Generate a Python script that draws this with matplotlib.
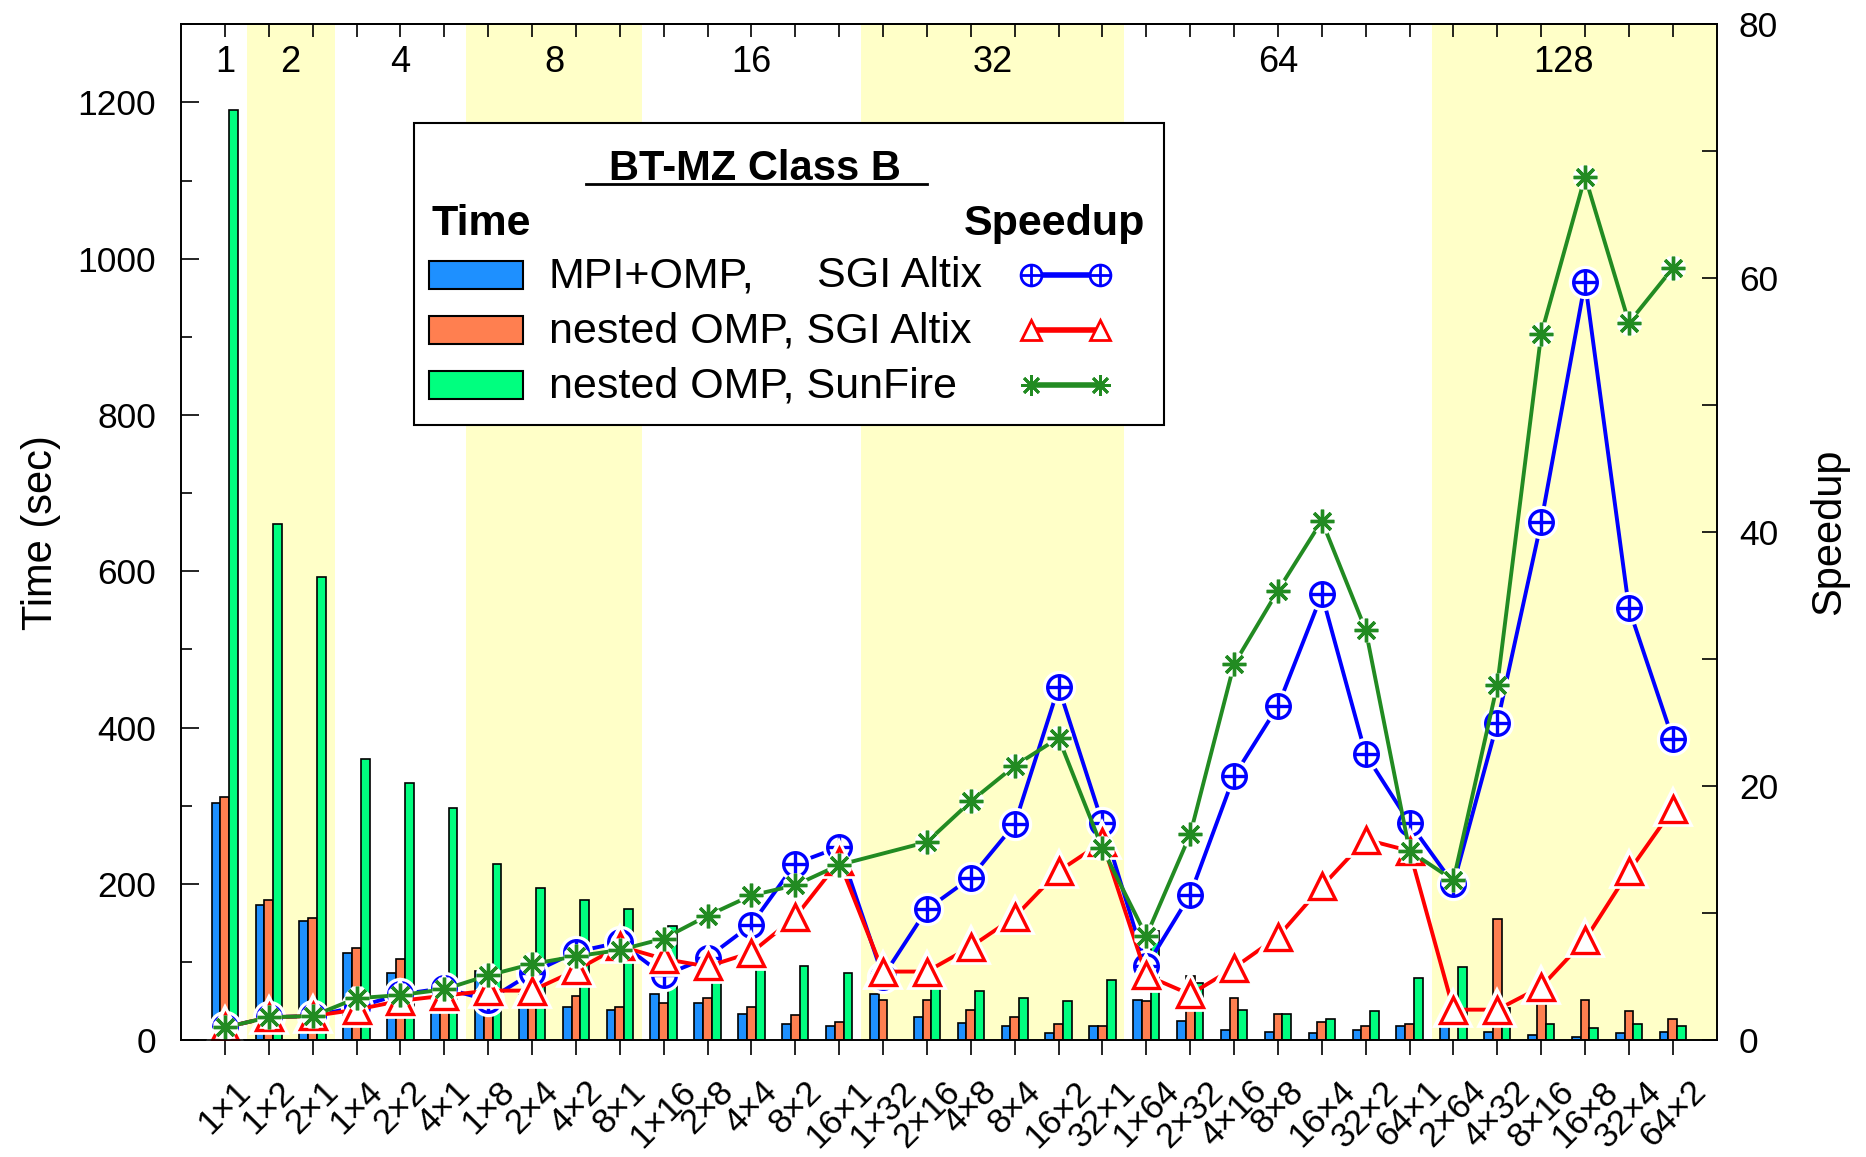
import numpy as np
import matplotlib
matplotlib.use("Agg")
from matplotlib import pyplot as plt
from matplotlib.patches import Rectangle
from matplotlib.lines import Line2D
from matplotlib.ticker import MultipleLocator

plt.rcParams['font.family'] = ['Liberation Sans', 'DejaVu Sans']

nan = np.nan

configs = ["1×1", "1×2", "2×1", "1×4", "2×2", "4×1", "1×8", "2×4", "4×2", "8×1",
           "1×16", "2×8", "4×4", "8×2", "16×1", "1×32", "2×16", "4×8", "8×4", "16×2",
           "32×1", "1×64", "2×32", "4×16", "8×8", "16×4", "32×2", "64×1", "2×64",
           "4×32", "8×16", "16×8", "32×4", "64×2"]

# time in seconds (left axis)
time_mpi_sgi = [304, 173, 153, 112, 86, 62, 88, 58, 43, 38.5, 58.6, 48, 34, 20.7, 18,
                59, 30, 22.5, 18, 9.4, 18, 52, 25, 13, 11, 9.4, 13, 18, 23.5, 10.7,
                6.4, 4.3, 9.4, 11]
time_nested_sgi = [311, 179, 156.5, 118.5, 104, 58, 60, 58, 56.5, 42.8, 47, 54, 43, 32, 23,
                   52, 52, 38, 30, 20.7, 18, 50, 82.5, 54, 34, 23, 18, 21, nan, 155,
                   58, 51, 37, 27]
time_nested_sun = [1190, 661, 593, 360, 329, 297, 225, 195, 179, 168, 146, 80, 97, 95, 86,
                   nan, 72, 63, 54, 50, 77.5, 140, 72.6, 39, 34, 27, 37, 80, 93, 40.6,
                   20.5, 15, 21, 18]

# speedup (right axis)
speedup_mpi_sgi = [1.0, 1.8, 1.9, 2.6, 3.6, 4.1, 3.15, 5.3, 6.95, 7.7, 5.1, 6.5, 9.1, 13.9,
                   15.2, 5.0, 10.3, 12.8, 17.0, 27.8, 17.1, 5.8, 11.45, 20.8, 26.3, 35.1,
                   22.5, 17.1, 12.3, 25.0, 40.8, 59.7, 34.0, 23.7]
speedup_nested_sgi = [1.0, 1.8, 1.9, 2.4, 3.1, 3.5, 3.9, 3.9, 5.5, 7.4, 6.4, 5.8, 6.9, 9.7,
                      14.1, 5.4, 5.4, 7.35, 9.7, 13.3, 15.6, 5.1, 3.6, 5.7, 8.15, 12.1,
                      15.8, 14.9, 2.4, 2.4, 4.2, 7.9, 13.3, 18.2]
speedup_nested_sun = [1.0, 1.8, 1.9, 3.3, 3.55, 4.0, 5.1, 6.0, 6.6, 7.1, 8.0, 9.8, 11.4, 12.2,
                      13.8, nan, 15.6, 18.8, 21.6, 23.8, 15.1, 8.2, 16.2, 29.6, 35.4, 40.9,
                      32.3, 14.9, 12.6, 28.0, 55.6, 68.0, 56.5, 60.8]

series_labels = ["MPI+OMP,", "nested OMP, SGI Altix", "nested OMP, SunFire"]
bar_colors = ['#1E90FF', '#FF7F50', '#00FF7F']
line_colors = ['#0000FF', '#FF0000', '#228B22']

fig = plt.figure(figsize=(18.66, 11.57), dpi=100)
ax = fig.add_axes([0.097, 0.101, 0.823, 0.878])
ax2 = ax.twinx()

x = np.arange(len(configs))
xmax = len(configs)
procs = [int(a) * int(b) for a, b in (c.split('×') for c in configs)]

# yellow bands for every other processor count + the count on top
groups = sorted(set(procs))
for k, g in enumerate(groups):
    idx = [i for i, p in enumerate(procs) if p == g]
    lo, hi = idx[0] - 0.5, idx[-1] + 0.5
    if k % 2 == 1:
        ax.axvspan(lo, xmax if idx[-1] == xmax - 1 else hi, color='#FFFFC8', lw=0, zorder=0)
    ax.text((lo + hi) / 2, 1251, str(g), ha='center', va='center', fontsize=26)

# time bars
w = 0.2
for k, vals in enumerate([time_mpi_sgi, time_nested_sgi, time_nested_sun]):
    ax.bar(x + (k - 1) * w, vals, w, color=bar_colors[k], edgecolor='black', lw=1.2, zorder=2)


def speed_line(a, yvals, color, marker, ms, face):
    y = np.asarray(yvals, float)
    ok = ~np.isnan(y)
    a.plot(x[ok], y[ok], color=color, lw=2.8)
    a.plot(x[ok], y[ok], ls='none', marker=marker, ms=ms, mfc='white', mec='white', mew=7)
    a.plot(x[ok], y[ok], ls='none', marker=marker, ms=ms, mfc=face, mec=color, mew=2.4)


speed_line(ax2, speedup_mpi_sgi, line_colors[0], 'o', 17, 'white')
ax2.plot(x, speedup_mpi_sgi, ls='none', marker='+', ms=17, mec=line_colors[0], mew=2.4)
speed_line(ax2, speedup_nested_sgi, line_colors[1], '^', 19, 'white')
speed_line(ax2, speedup_nested_sun, line_colors[2], (8, 2, 0), 17, 'none')

# axes
ax.set_xlim(-1, xmax)
ax.set_ylim(0, 1300)
ax2.set_ylim(0, 80)
ax.set_xticks(x)
ax.set_xticklabels(configs, rotation=45, ha='center', fontsize=25)
ax.tick_params(axis='x', direction='out', length=11, width=1.2, pad=14)
ax.set_yticks(range(0, 1201, 200))
ax.yaxis.set_minor_locator(MultipleLocator(100))
ax.tick_params(axis='y', which='major', direction='in', length=13, width=1.2, labelsize=25.5, pad=18)
ax.tick_params(axis='y', which='minor', direction='in', length=8, width=1.2)
ax2.set_yticks(range(0, 81, 20))
ax2.yaxis.set_minor_locator(MultipleLocator(10))
ax2.tick_params(axis='y', which='both', direction='in', length=11, width=1.2, labelsize=25.5, pad=16)
top = ax.secondary_xaxis('top')
top.set_xticks(x)
top.set_xticklabels([])
top.tick_params(direction='in', length=9, width=1.2)
for a in (ax, ax2):
    for s in a.spines.values():
        s.set_linewidth(1.2)
top.spines['top'].set_linewidth(1.2)

ax.set_ylabel('Time (sec)', fontsize=30, labelpad=12)
ax2.set_ylabel('Speedup', fontsize=30, labelpad=22)

# legend box drawn by hand
tr = ax2.transAxes
ax2.add_patch(Rectangle((0.1517, 0.6053), 0.4883, 0.2973, transform=tr,
                        fc='white', ec='black', lw=1.5, zorder=10))
ax2.text(0.374, 0.8465, 'BT-MZ Class B', transform=tr, ha='center', va='baseline',
         fontsize=30, weight='bold', zorder=11)
ax2.add_line(Line2D([0.2637, 0.4857], [0.8425, 0.8425], transform=tr, color='black', lw=2, zorder=11))
ax2.text(0.163, 0.793, 'Time', transform=tr, ha='left', va='baseline',
         fontsize=31, weight='bold', zorder=11)
ax2.text(0.6276, 0.793, 'Speedup', transform=tr, ha='right', va='baseline',
         fontsize=31, weight='bold', zorder=11)

rows = [0.753, 0.699, 0.6447]
markers = ['o', '^', (8, 2, 0)]
for k, yc in enumerate(rows):
    ax2.add_patch(Rectangle((0.1615, yc - 0.0138), 0.0612, 0.0276, transform=tr,
                            fc=bar_colors[k], ec='black', lw=1.5, zorder=11))
    ax2.text(0.2396, yc - 0.012, series_labels[k], transform=tr, ha='left', va='baseline',
             fontsize=31, zorder=11)
    ax2.plot([0.5534, 0.5983], [yc, yc], transform=tr, color=line_colors[k], lw=4, zorder=11)
    ax2.plot([0.5534, 0.5983], [yc, yc], transform=tr, ls='none', marker=markers[k], ms=15,
             mfc='white' if k < 2 else 'none', mec=line_colors[k], mew=2, zorder=12)
    if k == 0:
        ax2.plot([0.5534, 0.5983], [yc, yc], transform=tr, ls='none', marker='+', ms=15,
                 mec=line_colors[k], mew=2, zorder=12)
ax2.text(0.414, rows[0] - 0.012, 'SGI Altix', transform=tr, ha='left', va='baseline',
         fontsize=31, zorder=11)

fig.savefig('out.png', dpi=100)
